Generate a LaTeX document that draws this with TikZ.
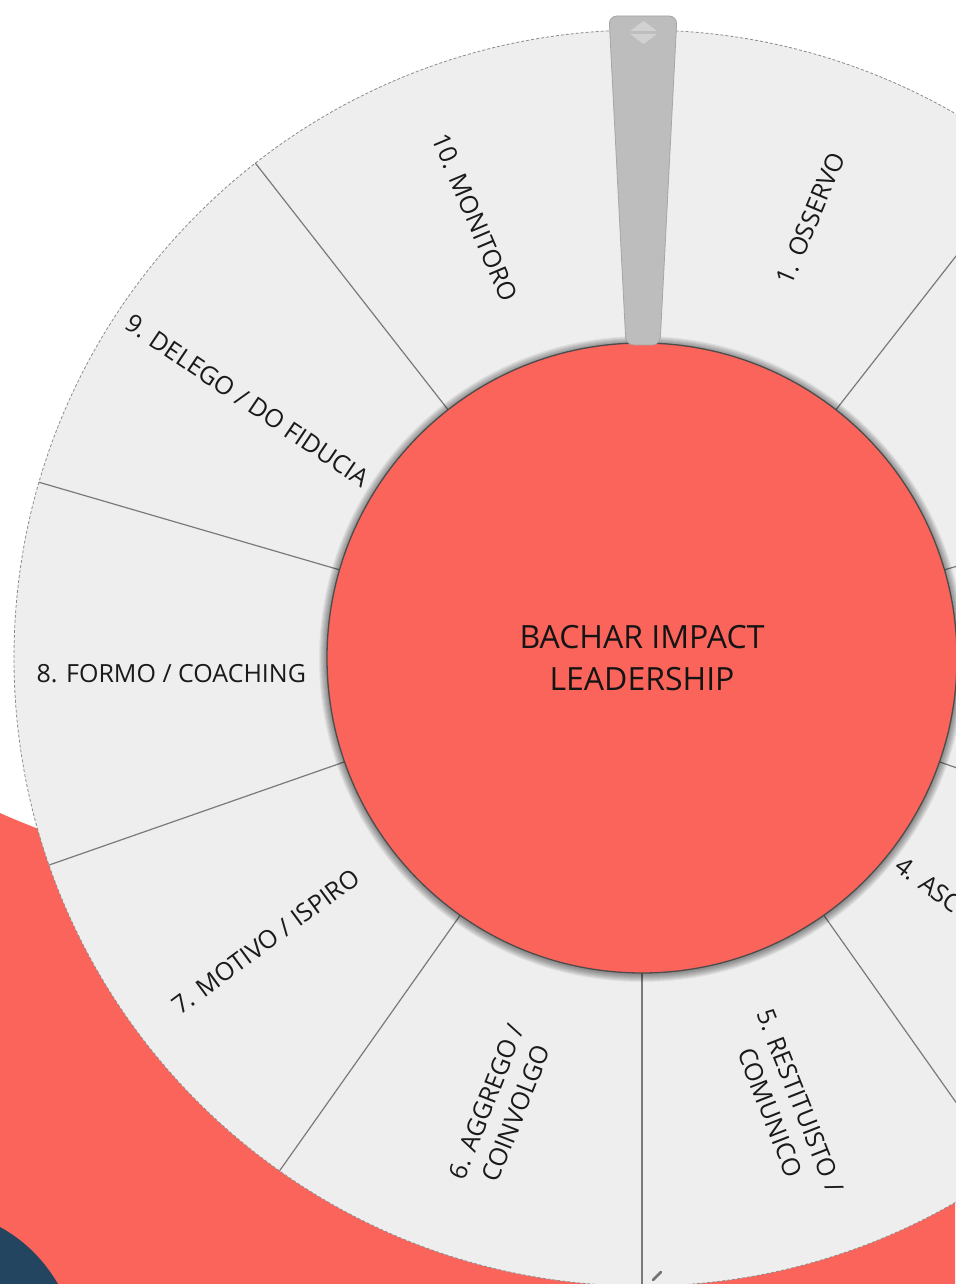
\documentclass[tikz,border=0pt]{standalone}
\usepackage{fontspec}
\setmainfont{Open Sans}
\definecolor{coral}{HTML}{FA645A}
\definecolor{navy}{HTML}{234560}
\definecolor{wheelgray}{HTML}{EEEEEE}
\definecolor{inkgray}{HTML}{1A1A1A}
\begin{document}
\begin{tikzpicture}[x=1pt,y=1pt,
  divider/.style={draw=black!52, line width=1.2pt},
  seglabel/.style={text=inkgray, font=\fontsize{25}{32}\selectfont, align=center, inner sep=0pt},
  hubtext/.style={text=black!92, font=\fontsize{32}{42}\selectfont, align=center}]
\useasboundingbox[fill=white] (-642,-626) rectangle (313,658);
% background
\fill[coral] (-642,-155) .. controls (-542,-201) and (100,-420) .. (313,-462)
  -- (313,-626) -- (-642,-626) -- cycle;
\fill[navy] (-642,-569) .. controls (-618,-582) and (-598,-602) .. (-584,-626)
  -- (-642,-626) -- cycle;
% wheel
\fill[wheelgray] (0,0) circle (628);
\draw[black!45, line width=0.8pt, dash pattern=on 3pt off 2pt] (0,0) circle (628);
\foreach \a in {90,128,163.75,199.25,234.75,270,305.25,340.75,16.25,52}
  \draw[divider] (\a:315) -- (\a:628);
\foreach \n/\pos/\rot/\txt in {1/69/67/{1. OSSERVO},
    10/110.8/-67/{10. MONITORO},
    9/146.9/-34/{9. DELEGO / DO FIDUCIA},
    8/181.9/0/{8. FORMO / COACHING},
    7/217/36.5/{7. MOTIVO / ISPIRO},
    6/252.6/68.5/{6. AGGREGO /\\COINVOLGO},
    5/287.7/-68.5/{5. RESTITUISTO /\\COMUNICO}}
  \node[seglabel, rotate=\rot] (lbl\n) at (\pos:471) {\txt};
\node[seglabel, rotate=-37, anchor=west] (lbl4) at (321.5:328) {4. ASC};
\draw[line width=2.5pt, black!55, line cap=round] (11,-622) -- (19,-614);
% hub
\foreach \i in {1,...,8}
  \fill[black, opacity=0.06] (0,-1) circle (315+\i);
\draw[fill=coral, draw=black!70, line width=1.3pt] (0,0) circle (315);
\node[hubtext] (hub) at (0,0) {BACHAR IMPACT\\LEADERSHIP};
% pointer
\draw[fill=black!26, draw=black!35, line width=0.8pt, rounded corners=8]
  (-16,313) -- (-33,642) -- (35,642) -- (18,313) -- cycle;
\fill[black!18] (-12,627) -- (15,627) -- (1.5,637) -- cycle;
\fill[black!18] (-12,624) -- (15,624) -- (1.5,614) -- cycle;
\end{tikzpicture}
\end{document}
